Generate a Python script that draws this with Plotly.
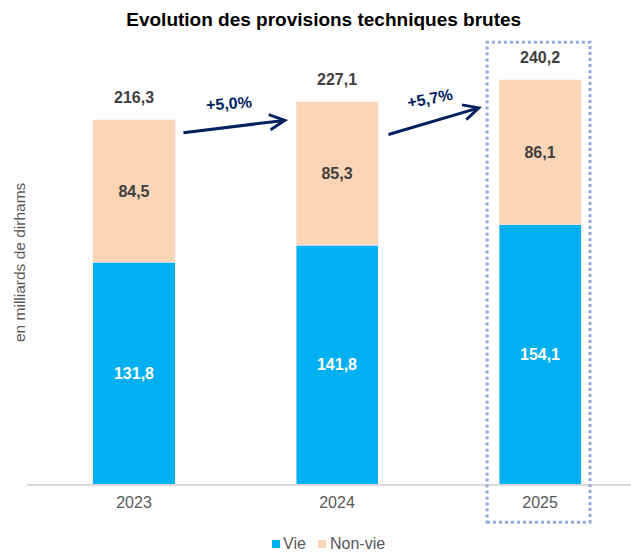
import plotly.graph_objects as go

# Data (milliards de dirhams)
years = ["2023", "2024", "2025"]
vie = [131.8, 141.8, 154.1]
non_vie = [84.5, 85.3, 86.1]
totals = [216.3, 227.1, 240.2]
growth_labels = ["+5,0%", "+5,7%"]


def fr(v):
    return f"{v:.1f}".replace(".", ",")


FONT = "Arial, Liberation Sans, sans-serif"
DARK = "#404040"
GREY = "#595959"
NAVY = "#002060"
BLUE = "#00B0F0"
PEACH = "#FBD5B5"

fig = go.Figure()

fig.add_trace(go.Bar(
    x=years, y=vie, name="Vie",
    marker_color=BLUE,
    text=[fr(v) for v in vie],
    textposition="inside", insidetextanchor="middle",
    textfont=dict(family=FONT, size=16, color="white", weight="bold"),
    width=0.404, showlegend=False,
))
fig.add_trace(go.Bar(
    x=years, y=non_vie, name="Non-vie",
    marker_color=PEACH,
    text=[fr(v) for v in non_vie],
    textposition="inside", insidetextanchor="middle",
    textfont=dict(family=FONT, size=16, color=DARK, weight="bold"),
    width=0.404, showlegend=False,
))

# totals above bars
for i, t in enumerate(totals):
    fig.add_annotation(
        x=i, y=t, text=f"<b>{fr(t)}</b>", showarrow=False,
        yanchor="middle", yshift=22,
        font=dict(family=FONT, size=16, color=DARK),
    )

# growth arrows between bars
arrows = [
    dict(tail=(0.236, 208.6), head=(0.759, 216.3), lab=(0.47, 226.0), ang=-4),
    dict(tail=(1.246, 207.4), head=(1.714, 224.0), lab=(1.46, 229.0), ang=-11),
]
for a, g in zip(arrows, growth_labels):
    fig.add_annotation(
        x=a["head"][0], y=a["head"][1], ax=a["tail"][0], ay=a["tail"][1],
        xref="x", yref="y", axref="x", ayref="y",
        text="", showarrow=True, arrowhead=5, arrowsize=1, arrowwidth=3,
        arrowcolor=NAVY,
    )
    fig.add_annotation(
        x=a["lab"][0], y=a["lab"][1], xref="x", yref="y",
        text=f"<b>{g}</b>", showarrow=False, textangle=a["ang"],
        font=dict(family=FONT, size=16, color=NAVY),
    )

# dotted highlight around 2025
fig.add_shape(
    type="rect", xref="x", yref="paper",
    x0=1.739, x1=2.246, y0=-0.086, y1=0.995,
    line=dict(color="#8FAADC", width=3, dash="dot"),
)

# y-axis title
fig.add_annotation(
    xref="paper", yref="paper", x=-0.0132, y=0.50,
    xanchor="center", yanchor="middle",
    text="en milliards de dirhams", textangle=-90, showarrow=False,
    font=dict(family=FONT, size=15.5, color=GREY),
)

# legend drawn by hand (tight Excel-like spacing)
legend_items = [("Vie", BLUE, 0.4056, 0.4222), ("Non-vie", PEACH, 0.4818, 0.500)]
for name, col, sx, tx in legend_items:
    fig.add_shape(
        type="rect", xref="paper", yref="paper",
        x0=sx, x1=sx + 0.0135, y0=-0.1261, y1=-0.1441,
        fillcolor=col, line_width=0,
    )
    fig.add_annotation(
        xref="paper", yref="paper", x=tx, y=-0.1351,
        xanchor="left", yanchor="middle", text=name, showarrow=False,
        borderpad=0,
        font=dict(family=FONT, size=16, color=GREY),
    )

fig.update_layout(
    width=631, height=552,
    margin=dict(l=27, r=0, t=40, b=68),
    barmode="stack",
    plot_bgcolor="white", paper_bgcolor="white",
    showlegend=False,
    title=dict(
        text="<b>Evolution des provisions techniques brutes</b>",
        x=0.513, xanchor="center", y=1 - 19 / 552, yanchor="middle",
        font=dict(family=FONT, size=19, color="black"),
    ),
    xaxis=dict(
        type="category", range=[-0.527, 2.448], automargin=False,
        showline=True, linecolor="#D9D9D9", linewidth=2,
        ticks="", ticklabelstandoff=3,
        tickfont=dict(family=FONT, size=16, color=GREY),
        fixedrange=True,
    ),
    yaxis=dict(
        range=[0, 263.8], automargin=False, showticklabels=False,
        showgrid=False, zeroline=False, showline=False, ticks="",
    ),
)

# the page body has a default 8px margin; drop it so the figure fills the window
fig.write_html(
    "out.html",
    config={"displayModeBar": False},
    post_script="document.body.style.margin = '0';",
)
